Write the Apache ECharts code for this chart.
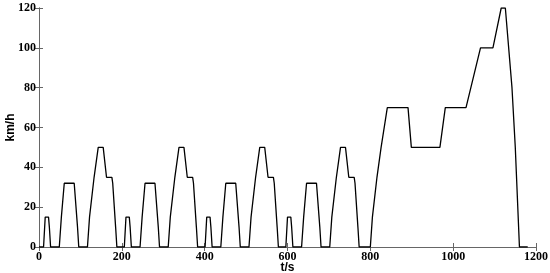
<!DOCTYPE html>
<html>
<head>
<meta charset="utf-8">
<script src="https://cdn.jsdelivr.net/npm/echarts@6/dist/echarts.min.js"></script>
<style>
  html, body { margin: 0; padding: 0; background: #fff; }
  #chart { width: 550px; height: 273px; }
</style>
</head>
<body>
<div id="chart"></div>
<script>
// time breakpoints (s) and speed (km/h)
const timeS = [
  0, 11, 15, 23, 25, 28, 49, 54, 56, 61, 85, 93, 96, 117, 122, 124, 133, 135, 143, 155, 163, 176, 178, 185, 188,
  195, 206, 210, 218, 220, 223, 244, 249, 251, 256, 280, 288, 291, 312, 317, 319, 328, 330, 338, 350, 358, 371, 373, 380, 383,
  390, 401, 405, 413, 415, 418, 439, 444, 446, 451, 475, 483, 486, 507, 512, 514, 523, 525, 533, 545, 553, 566, 568, 575, 578,
  585, 596, 600, 608, 610, 613, 634, 639, 641, 646, 670, 678, 681, 702, 707, 709, 718, 720, 728, 740, 748, 761, 763, 770, 773,
  780, 800, 805, 807, 816, 818, 826, 828, 841, 891, 899, 968, 981, 1031, 1066, 1096, 1116, 1126, 1142, 1150, 1160, 1180
];
const speedKmh = [
  0, 0, 15, 15, 10, 0, 0, 15, 15, 32, 32, 10, 0, 0, 15, 15, 35, 35, 50, 50, 35, 35, 32, 10, 0,
  0, 0, 15, 15, 10, 0, 0, 15, 15, 32, 32, 10, 0, 0, 15, 15, 35, 35, 50, 50, 35, 35, 32, 10, 0,
  0, 0, 15, 15, 10, 0, 0, 15, 15, 32, 32, 10, 0, 0, 15, 15, 35, 35, 50, 50, 35, 35, 32, 10, 0,
  0, 0, 15, 15, 10, 0, 0, 15, 15, 32, 32, 10, 0, 0, 15, 15, 35, 35, 50, 50, 35, 35, 32, 10, 0,
  0, 0, 15, 15, 35, 35, 50, 50, 70, 70, 50, 50, 70, 70, 100, 100, 120, 120, 80, 50, 0, 0
];
const xTicks = [0, 200, 400, 600, 800, 1000, 1200];
const yTicks = [0, 20, 40, 60, 80, 100, 120];

const chart = echarts.init(document.getElementById('chart'));

const frameColor = '#666';
const tickFont = {
  color: '#000',
  fontFamily: 'Liberation Serif',
  fontWeight: 'bold',
  fontSize: 12
};
const nameFont = { color: '#000', fontFamily: 'Liberation Sans', fontWeight: 'bold', fontSize: 12 };

const option = {
  animation: false,
  grid: { left: 39, right: 14, top: 8, bottom: 26, containLabel: false, outerBoundsMode: 'none' },
  xAxis: [
    {
      type: 'value',
      min: xTicks[0],
      max: xTicks[xTicks.length - 1],
      interval: 200,
      name: 't/s',
      nameLocation: 'middle',
      nameGap: 15,
      nameMoveOverlap: false,
      nameTextStyle: nameFont,
      axisLine: { show: true, lineStyle: { color: frameColor, width: 1 } },
      axisTick: { show: true, inside: true, length: 4, lineStyle: { color: frameColor } },
      axisLabel: Object.assign({ margin: 4, formatter: v => String(v) }, tickFont),
      splitLine: { show: false }
    },
    {
      type: 'value',
      position: 'top',
      min: 0, max: 1200, interval: 200,
      axisLine: { show: true, lineStyle: { color: frameColor, width: 1 } },
      axisTick: { show: true, inside: true, length: 4, lineStyle: { color: frameColor } },
      axisLabel: { show: false },
      splitLine: { show: false }
    }
  ],
  yAxis: [
    {
      type: 'value',
      min: yTicks[0],
      max: yTicks[yTicks.length - 1],
      interval: 20,
      name: 'km/h',
      nameLocation: 'middle',
      nameGap: 22,
      nameRotate: 90,
      nameMoveOverlap: false,
      nameTextStyle: nameFont,
      axisLine: { show: true, lineStyle: { color: frameColor, width: 1 } },
      axisTick: { show: true, inside: true, length: 4, lineStyle: { color: frameColor } },
      axisLabel: Object.assign({ margin: 3, formatter: v => String(v) }, tickFont),
      splitLine: { show: false }
    },
    {
      type: 'value',
      position: 'right',
      min: 0, max: 120, interval: 20,
      axisLine: { show: true, lineStyle: { color: frameColor, width: 1 } },
      axisTick: { show: true, inside: true, length: 4, lineStyle: { color: frameColor } },
      axisLabel: { show: false },
      splitLine: { show: false }
    }
  ],
  series: [
    {
      type: 'line',
      data: timeS.map((t, i) => [t, speedKmh[i]]),
      showSymbol: false,
      lineStyle: { color: '#000', width: 1.3 },
      clip: true
    }
  ]
};

chart.setOption(option);
</script>
</body>
</html>
